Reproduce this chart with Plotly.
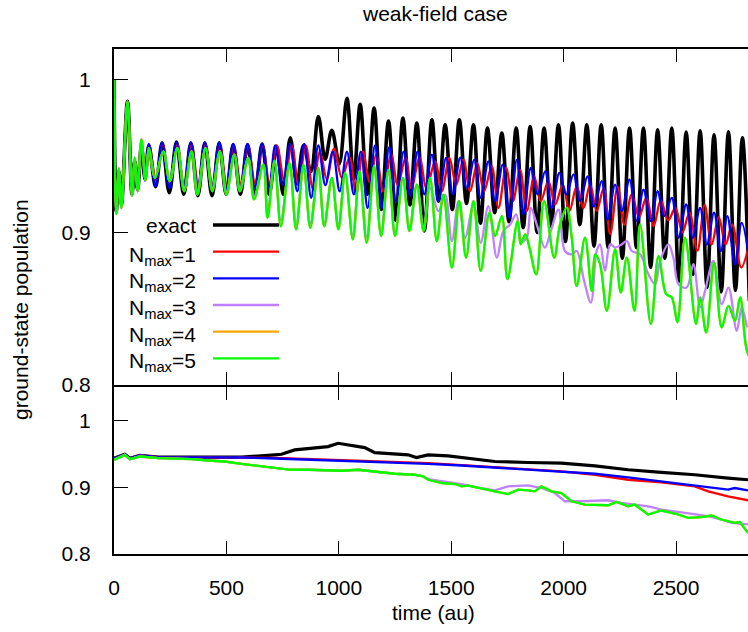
import plotly.graph_objects as go

# ---------------- data ----------------
# top panel: ground-state population, extrema of the oscillations
exact_t = [0, 10, 22, 33, 60, 80, 92, 105, 122, 138, 155, 185, 214, 246, 278, 310, 342, 373, 404, 436,
           468, 499, 530, 562, 594, 626, 659, 690, 723, 753, 784, 814, 843, 876, 909, 939, 969, 1002,
           1036, 1066, 1095, 1126, 1157, 1189, 1221, 1253, 1285, 1316, 1347, 1380, 1414, 1443, 1473,
           1505, 1536, 1568, 1599, 1630, 1661, 1693, 1725, 1757, 1789, 1820, 1851, 1882, 1913, 1945,
           1977, 2008, 2040, 2072, 2103, 2135, 2167, 2198, 2229, 2261, 2293, 2324, 2355, 2387, 2418,
           2450, 2481, 2513, 2545, 2576, 2607, 2638, 2669, 2701, 2733, 2764, 2795, 2826]
exact_y = [1.0, 0.914, 0.940, 0.918, 0.986, 0.925, 0.947, 0.928, 0.957, 0.935, 0.957, 0.930, 0.9586,
           0.926, 0.9593, 0.925, 0.9586, 0.924, 0.9586, 0.924, 0.9586, 0.925, 0.9575, 0.925, 0.9575,
           0.925, 0.958, 0.925, 0.9564, 0.925, 0.962, 0.932, 0.957, 0.940, 0.976, 0.948, 0.967, 0.945,
           0.988, 0.935, 0.984, 0.925, 0.9815, 0.915, 0.973, 0.908, 0.975, 0.918, 0.9717, 0.901, 0.9739,
           0.9205, 0.9706, 0.915, 0.9739, 0.919, 0.9706, 0.906, 0.9684, 0.913, 0.9651, 0.907, 0.9684,
           0.903, 0.9695, 0.900, 0.9684, 0.904, 0.9706, 0.894, 0.9717, 0.905, 0.9706, 0.891, 0.9706,
           0.890, 0.9684, 0.883, 0.9684, 0.890, 0.9684, 0.877, 0.9673, 0.883, 0.9684, 0.868, 0.9658,
           0.8725, 0.9667, 0.864, 0.964, 0.861, 0.966, 0.862, 0.962, 0.855]

n1_t = [0, 10, 22, 33, 60, 80, 92, 105, 122, 140, 157, 187, 216, 248, 280, 312, 344, 375, 406, 438,
        470, 501, 532, 564, 596, 628, 661, 692, 724, 757, 791, 820, 853, 884, 916, 946, 979, 1013,
        1048, 1077, 1107, 1138, 1166, 1197, 1233, 1262, 1297, 1323, 1359, 1390, 1428, 1458, 1492,
        1522, 1554, 1584, 1616, 1646, 1680, 1710, 1744, 1774, 1806, 1836, 1869, 1898, 1932, 1962,
        1996, 2026, 2058, 2088, 2118, 2147, 2178, 2207, 2240, 2270, 2303, 2335, 2368, 2400, 2432,
        2465, 2497, 2528, 2560, 2595, 2627, 2658, 2690, 2720, 2750, 2790, 2826]
n1_y = [1.0, 0.916, 0.940, 0.920, 0.984, 0.927, 0.946, 0.930, 0.958, 0.937, 0.957, 0.933, 0.958, 0.932,
        0.958, 0.931, 0.958, 0.931, 0.958, 0.931, 0.958, 0.931, 0.957, 0.932, 0.957, 0.932, 0.957,
        0.932, 0.957, 0.935, 0.957, 0.931, 0.957, 0.929, 0.953, 0.935, 0.955, 0.936, 0.949, 0.925,
        0.953, 0.933, 0.951, 0.927, 0.951, 0.931, 0.949, 0.929, 0.949, 0.929, 0.9466, 0.927, 0.9488,
        0.931, 0.9477, 0.927, 0.9455, 0.927, 0.9433, 0.916, 0.9423, 0.9205, 0.941, 0.914, 0.9368,
        0.9205, 0.9336, 0.9183, 0.9314, 0.914, 0.9303, 0.916, 0.9314, 0.914, 0.929, 0.899, 0.930,
        0.905, 0.925, 0.910, 0.923, 0.904, 0.921, 0.908, 0.916, 0.900, 0.913, 0.888, 0.918, 0.892,
        0.910, 0.892, 0.905, 0.877, 0.893]

n2_t = [0, 10, 22, 33, 60, 80, 92, 105, 122, 138, 155, 185, 214, 246, 278, 310, 342, 373, 404, 436,
        468, 499, 530, 562, 594, 626, 659, 690, 717, 750, 784, 815, 846, 877, 909, 940, 973, 1004,
        1036, 1067, 1098, 1128, 1161, 1192, 1224, 1255, 1288, 1318, 1350, 1380, 1414, 1443, 1477,
        1507, 1540, 1569, 1602, 1631, 1665, 1695, 1729, 1759, 1792, 1821, 1854, 1884, 1918, 1947,
        1981, 2011, 2044, 2073, 2106, 2135, 2169, 2195, 2229, 2258, 2293, 2325, 2355, 2388, 2418,
        2447, 2481, 2511, 2545, 2574, 2607, 2637, 2669, 2699, 2728, 2762, 2792, 2830]
n2_y = [1.0, 0.914, 0.941, 0.918, 0.984, 0.925, 0.947, 0.928, 0.960, 0.934, 0.958, 0.930, 0.959, 0.929,
        0.959, 0.928, 0.959, 0.928, 0.959, 0.928, 0.959, 0.928, 0.958, 0.929, 0.958, 0.929, 0.958,
        0.929, 0.957, 0.931, 0.958, 0.927, 0.958, 0.9227, 0.957, 0.931, 0.953, 0.927, 0.953, 0.925,
        0.953, 0.916, 0.957, 0.916, 0.956, 0.920, 0.953, 0.924, 0.953, 0.925, 0.951, 0.9205, 0.9488,
        0.925, 0.949, 0.929, 0.9477, 0.9227, 0.9466, 0.9205, 0.9444, 0.9096, 0.9477, 0.912, 0.9423,
        0.925, 0.940, 0.916, 0.939, 0.925, 0.938, 0.9205, 0.9368, 0.917, 0.9336, 0.9085, 0.9314,
        0.914, 0.9346, 0.9074, 0.928, 0.9074, 0.927, 0.9107, 0.9227, 0.8965, 0.9183, 0.8965, 0.916,
        0.892, 0.913, 0.8878, 0.9107, 0.879, 0.9063, 0.878]

n3_t = [0, 10, 22, 33, 60, 80, 92, 105, 122, 140, 155, 182, 219, 248, 282, 312, 345, 371, 407, 437,
        471, 500, 535, 560, 597, 623, 664, 683, 714, 742, 781, 810, 843, 873, 909, 935, 969, 998,
        1028, 1062, 1092, 1124, 1157, 1188, 1221, 1250, 1285, 1314, 1347, 1377, 1406, 1443, 1473,
        1503, 1532, 1562, 1599, 1631, 1665, 1703, 1732, 1762, 1789, 1814, 1836, 1854, 1880, 1917,
        1943, 1977, 2006, 2036, 2058, 2091, 2121, 2147, 2162, 2184, 2207, 2229, 2259, 2281, 2303,
        2340, 2377, 2407, 2429, 2466, 2488, 2511, 2547, 2577, 2607, 2629, 2666, 2703, 2733, 2770,
        2792, 2815]
n3_y = [1.0, 0.912, 0.942, 0.916, 0.986, 0.924, 0.949, 0.927, 0.961, 0.934, 0.9553, 0.9357, 0.9532,
        0.9336, 0.9553, 0.929, 0.9532, 0.9268, 0.9553, 0.929, 0.9532, 0.9268, 0.951, 0.929, 0.9488,
        0.9236, 0.9444, 0.913, 0.9457, 0.908, 0.9435, 0.905, 0.9424, 0.906, 0.9403, 0.906, 0.9357,
        0.905, 0.938, 0.898, 0.939, 0.897, 0.9414, 0.900, 0.940, 0.900, 0.9357, 0.903, 0.9314, 0.903,
        0.9292, 0.9139, 0.9248, 0.8943, 0.9205, 0.8965, 0.9183, 0.8932, 0.9172, 0.8835, 0.9009,
        0.9052, 0.9118, 0.8943, 0.8965, 0.9161, 0.9052, 0.890, 0.9009, 0.915, 0.8878, 0.8856,
        0.8878, 0.8682, 0.854, 0.8878, 0.8922, 0.8747, 0.8922, 0.890, 0.8922, 0.8943, 0.8878, 0.8856,
        0.8725, 0.866, 0.8813, 0.8922, 0.8835, 0.866, 0.8638, 0.8791, 0.8508, 0.8616, 0.8813,
        0.8529, 0.8638, 0.8355, 0.8508, 0.8377]

n5_t = [0, 10, 22, 33, 60, 80, 92, 105, 122, 140, 155, 182, 219, 248, 282, 312, 345, 371, 407, 437,
        471, 500, 535, 560, 597, 623, 664, 683, 714, 742, 781, 810, 843, 873, 909, 935, 969, 998,
        1028, 1062, 1092, 1124, 1157, 1188, 1221, 1250, 1285, 1314, 1347, 1377, 1406, 1436, 1465,
        1503, 1536, 1566, 1599, 1631, 1670, 1695, 1725, 1750, 1795, 1809, 1829, 1848, 1878, 1913,
        1958, 1984, 2014, 2036, 2058, 2095, 2125, 2140, 2162, 2192, 2229, 2254, 2281, 2315, 2340,
        2388, 2422, 2456, 2481, 2506, 2540, 2589, 2607, 2634, 2669, 2703, 2733, 2762, 2785, 2815,
        2840]
n5_y = [1.0, 0.912, 0.942, 0.916, 0.986, 0.924, 0.949, 0.927, 0.961, 0.934, 0.9553, 0.9357, 0.9532,
        0.9336, 0.9553, 0.927, 0.9532, 0.9248, 0.9553, 0.927, 0.9532, 0.9248, 0.951, 0.927, 0.9488,
        0.9216, 0.9444, 0.9096, 0.947, 0.904, 0.9455, 0.902, 0.9444, 0.903, 0.9423, 0.904, 0.9357,
        0.902, 0.939, 0.8954, 0.940, 0.8932, 0.9434, 0.8976, 0.941, 0.8976, 0.9357, 0.9009, 0.9314,
        0.9009, 0.9357, 0.8943, 0.9248, 0.8769, 0.9205, 0.8835, 0.9205, 0.8747, 0.9129, 0.8976,
        0.9107, 0.8693, 0.9074, 0.8922, 0.8987, 0.890, 0.8725, 0.9205, 0.8835, 0.9052, 0.9161,
        0.8965, 0.8649, 0.8965, 0.8616, 0.8856, 0.8791, 0.8486, 0.8889, 0.8606, 0.8835, 0.8486,
        0.9052, 0.8399, 0.8845, 0.8595, 0.8573, 0.841, 0.8965, 0.8399, 0.8573, 0.8344, 0.8802,
        0.8377, 0.8518, 0.842, 0.8573, 0.8224, 0.815]

# N_max=4 lies underneath N_max=5 in the picture
n4_t = n5_t
n4_y = n5_y

# bottom panel: time-averaged population
bx_t = [0, 48, 71, 115, 197, 345, 567, 715, 745, 804, 893, 952, 997, 1071, 1115, 1160, 1249, 1308,
        1345, 1397, 1486, 1575, 1694, 1842, 1990, 2139, 2287, 2435, 2583, 2731, 2820]
bx_y = [0.9438, 0.9497, 0.9438, 0.948, 0.9453, 0.9453, 0.9453, 0.9488, 0.9497, 0.9562, 0.9587,
        0.9612, 0.9662, 0.9622, 0.9597, 0.9522, 0.9497, 0.9488, 0.9448, 0.9488, 0.9473, 0.9438,
        0.9388, 0.9373, 0.9363, 0.9323, 0.9264, 0.9224, 0.9189, 0.9139, 0.9114]
b1_t = [0, 48, 71, 115, 197, 567, 715, 1012, 1397, 1546, 1694, 1842, 1990, 2139, 2287, 2435, 2583,
        2643, 2731, 2820]
b1_y = [0.9438, 0.9497, 0.9438, 0.948, 0.9453, 0.9453, 0.9443, 0.941, 0.9363, 0.9333, 0.9303, 0.9274,
        0.9239, 0.9189, 0.9114, 0.9075, 0.9015, 0.894, 0.8866, 0.8806]
b2_t = [0, 48, 71, 115, 197, 567, 715, 1012, 1397, 1546, 1694, 1842, 1990, 2139, 2287, 2435, 2583,
        2731, 2761, 2820]
b2_y = [0.9438, 0.9497, 0.9438, 0.948, 0.9453, 0.9448, 0.9433, 0.940, 0.9353, 0.9328, 0.9298, 0.9274,
        0.9239, 0.9204, 0.9149, 0.909, 0.903, 0.8965, 0.899, 0.8955]
b3_t = [0, 48, 71, 115, 197, 345, 419, 493, 567, 641, 715, 789, 864, 1012, 1086, 1160, 1249, 1338,
        1375, 1397, 1546, 1635, 1694, 1753, 1842, 1901, 1961, 2005, 2079, 2198, 2257, 2316, 2376,
        2435, 2524, 2583, 2643, 2702, 2746, 2820]
b3_y = [0.9413, 0.9488, 0.9423, 0.9463, 0.9438, 0.9423, 0.9403, 0.9388, 0.9353, 0.9323, 0.9289,
        0.9264, 0.9264, 0.9249, 0.9264, 0.9239, 0.9204, 0.9189, 0.9164, 0.9124, 0.905, 0.899, 0.8955,
        0.9015, 0.903, 0.899, 0.8915, 0.8791, 0.8791, 0.8806, 0.8766, 0.8741, 0.8716, 0.8667, 0.8627,
        0.8592, 0.8567, 0.8517, 0.8468, 0.8443]
b5_t = [0, 48, 71, 115, 197, 345, 419, 493, 567, 641, 715, 789, 864, 1012, 1086, 1160, 1249, 1338,
        1375, 1397, 1457, 1516, 1546, 1575, 1620, 1694, 1753, 1798, 1842, 1872, 1901, 1946, 1990,
        2035, 2094, 2198, 2235, 2287, 2316, 2376, 2435, 2494, 2554, 2613, 2657, 2702, 2761, 2783,
        2820]
b5_y = [0.9413, 0.9488, 0.9423, 0.9463, 0.9438, 0.9423, 0.9403, 0.9388, 0.9353, 0.9323, 0.9289,
        0.9264, 0.9264, 0.9249, 0.9264, 0.9239, 0.9204, 0.9189, 0.9164, 0.9114, 0.9065, 0.905,
        0.9015, 0.9025, 0.899, 0.894, 0.890, 0.8965, 0.8955, 0.894, 0.9015, 0.894, 0.8915, 0.8791,
        0.8741, 0.8731, 0.8781, 0.8716, 0.8741, 0.8592, 0.8652, 0.8607, 0.8542, 0.8552, 0.8577,
        0.8517, 0.8468, 0.8478, 0.8318]
b4_t = b5_t
b4_y = b5_y

series_names = ["exact", "N<sub>max</sub>=1", "N<sub>max</sub>=2", "N<sub>max</sub>=3",
                "N<sub>max</sub>=4", "N<sub>max</sub>=5"]
colors = ["#000000", "#ff0000", "#0000ff", "#c080ff", "#ffa500", "#00ff00"]
top_data = [(exact_t, exact_y), (n1_t, n1_y), (n2_t, n2_y), (n3_t, n3_y), (n4_t, n4_y), (n5_t, n5_y)]
bot_data = [(bx_t, bx_y), (b1_t, b1_y), (b2_t, b2_y), (b3_t, b3_y), (b4_t, b4_y), (b5_t, b5_y)]
x_ticks = [0, 500, 1000, 1500, 2000, 2500]
y_ticks = [0.8, 0.9, 1.0]
y_ticktext = ["0.8", "0.9", "1"]

# ---------------- figure ----------------
FONT = "Liberation Sans, Arial, Helvetica, sans-serif"
FS = 21
W, H = 748, 632
ML, MR, MT, MB = 114, 0, 49, 78
PW, PH = W - ML - MR, H - MT - MB
SEP = 386  # pixel row of the panel separator line
top_dom = [(H - MB - (SEP - 1)) / PH, 1]
bot_dom = [0, (H - MB - (SEP + 1)) / PH]

fig = go.Figure()
for i, (t, y) in enumerate(top_data):
    fig.add_trace(go.Scatter(x=t, y=y, mode="lines", xaxis="x2", yaxis="y2",
                             line=dict(color=colors[i], width=3.6 if i == 0 else 2.3,
                                       shape="spline", smoothing=1.0),
                             showlegend=False, hoverinfo="skip"))
for i, (t, y) in enumerate(bot_data):
    fig.add_trace(go.Scatter(x=t, y=y, mode="lines", xaxis="x", yaxis="y",
                             line=dict(color=colors[i], width=3.2 if i == 0 else 2.3),
                             showlegend=False, hoverinfo="skip"))

axis_common = dict(showgrid=False, zeroline=False, showline=True, linecolor="black", linewidth=2,
                   ticks="inside", tickcolor="black", tickwidth=1,
                   tickfont=dict(family=FONT, size=FS, color="black"))
x_range = [0, 2820]
fig.update_layout(
    width=W, height=H, margin=dict(l=ML, r=MR, t=MT, b=MB),
    paper_bgcolor="white", plot_bgcolor="white",
    font=dict(family=FONT, size=FS, color="black"),
    xaxis=dict(domain=[0, 1], anchor="y", range=x_range, tickvals=x_ticks, ticklen=13,
               mirror="ticks", ticklabelstandoff=14, **axis_common),
    xaxis2=dict(domain=[0, 1], anchor="y2", range=x_range, tickvals=x_ticks, ticklen=13,
                mirror="ticks", showticklabels=False, matches="x", **axis_common),
    yaxis=dict(domain=bot_dom, anchor="x", range=[0.7999, 1.0507], tickvals=y_ticks,
               ticktext=y_ticktext, ticklen=14, ticklabelstandoff=17, **axis_common),
    yaxis2=dict(domain=top_dom, anchor="x2", range=[0.7999, 1.0203], tickvals=y_ticks,
                ticktext=y_ticktext, ticklen=14, ticklabelstandoff=17, **axis_common),
)

def px_x(p):
    return (p - ML) / PW

def px_y(p):
    return (H - MB - p) / PH

annotations = [
    dict(text="weak-field case", x=px_x(434.5), y=px_y(14), xref="paper", yref="paper",
         xanchor="center", yanchor="middle", showarrow=False, font=dict(size=FS)),
    dict(text="time (au)", x=px_x(433.5), y=px_y(612), xref="paper", yref="paper",
         xanchor="center", yanchor="middle", showarrow=False, font=dict(size=FS)),
    dict(text="ground-state population", x=px_x(20), y=px_y(310), xref="paper", yref="paper",
         xanchor="center", yanchor="middle", textangle=-90, showarrow=False, font=dict(size=FS)),
]
shapes = []
legend_rows = [225, 251.7, 278.3, 305, 331.7, 358.3]
for i, name in enumerate(series_names):
    ry = legend_rows[i]
    annotations.append(dict(text=name, x=px_x(198), y=px_y(ry), xref="paper", yref="paper",
                            xanchor="right", yanchor="middle", showarrow=False,
                            yshift=(0 if i == 0 else -4), font=dict(size=FS)))
    shapes.append(dict(type="line", xref="paper", yref="paper", x0=px_x(213), x1=px_x(279),
                       y0=px_y(ry), y1=px_y(ry),
                       line=dict(color=colors[i], width=3.6 if i == 0 else 2.3)))
fig.update_layout(annotations=annotations, shapes=shapes)

fig.write_html("out.html")
